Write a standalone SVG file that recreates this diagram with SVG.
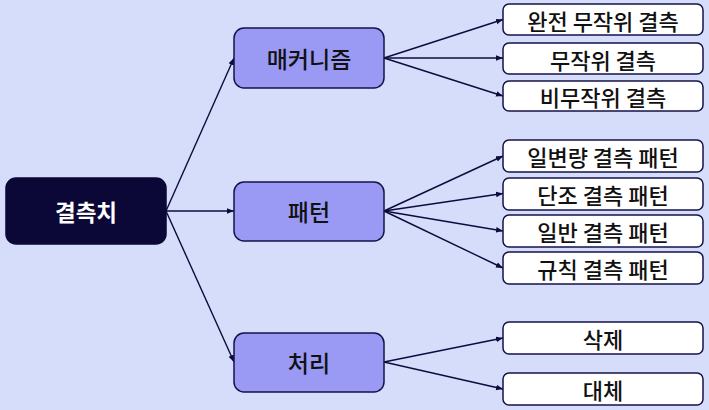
<svg xmlns="http://www.w3.org/2000/svg" width="709" height="410" viewBox="0 0 709 410">
<defs>
<marker id="arr" viewBox="0 0 10 10" refX="10" refY="5" markerWidth="7" markerHeight="7" markerUnits="userSpaceOnUse" orient="auto">
<path d="M0,1 L10,5 L0,9 z" fill="#0d0b3d"/>
</marker>
<style>
text{font-family:"Noto Sans CJK KR","Noto Sans",sans-serif;text-anchor:middle;dominant-baseline:central}
.root rect{fill:#0b0736;stroke:#0b0736;stroke-width:1.5}
.root text{fill:#ffffff;font-size:22.5px;font-weight:bold}
.mid rect{fill:#9a9af5;stroke:#14124a;stroke-width:1.5}
.mid text{fill:#111111;font-size:23px;font-weight:500}
.leaf rect{fill:#ffffff;stroke:#14124a;stroke-width:1.5}
.leaf text{fill:#111111;font-size:22px;font-weight:500}
.edges line{stroke:#0d0b3d;stroke-width:1.4;marker-end:url(#arr)}
</style>
</defs>
<rect width="709" height="410" fill="#d5ddfa"/>
<g class="edges" id="connectors">
<line x1="166" y1="211" x2="234" y2="58"/>
<line x1="166" y1="211" x2="234" y2="211"/>
<line x1="166" y1="211" x2="234" y2="362"/>
<line x1="384" y1="58" x2="503" y2="19.5"/>
<line x1="384" y1="58" x2="503" y2="58"/>
<line x1="384" y1="58" x2="503" y2="96"/>
<line x1="384" y1="211" x2="503" y2="156"/>
<line x1="384" y1="211" x2="503" y2="193.5"/>
<line x1="384" y1="211" x2="503" y2="231"/>
<line x1="384" y1="211" x2="503" y2="268"/>
<line x1="384" y1="362" x2="503" y2="338"/>
<line x1="384" y1="362" x2="503" y2="389"/>
</g>
<g id="n-root" class="root"><rect x="6" y="178" width="160" height="66" rx="10"/><text x="86" y="211">결측치</text></g>
<g id="n-mech" class="mid"><rect x="234" y="28" width="150" height="60" rx="10"/><text x="309" y="58">매커니즘</text></g>
<g id="n-pattern" class="mid"><rect x="234" y="182" width="150" height="59" rx="10"/><text x="309" y="211">패턴</text></g>
<g id="n-proc" class="mid"><rect x="234" y="333" width="150" height="59" rx="10"/><text x="309" y="362">처리</text></g>
<g id="n-mcar" class="leaf"><rect x="503" y="4" width="200" height="31" rx="6"/><text x="603" y="19.5">완전 무작위 결측</text></g>
<g id="n-mar" class="leaf"><rect x="503" y="43" width="200" height="31" rx="6"/><text x="603" y="58.5">무작위 결측</text></g>
<g id="n-mnar" class="leaf"><rect x="503" y="81" width="200" height="30" rx="6"/><text x="603" y="96">비무작위 결측</text></g>
<g id="n-uni" class="leaf"><rect x="503" y="140" width="200" height="32" rx="6"/><text x="603" y="156">일변량 결측 패턴</text></g>
<g id="n-mono" class="leaf"><rect x="503" y="178" width="200" height="32" rx="6"/><text x="603" y="194">단조 결측 패턴</text></g>
<g id="n-gen" class="leaf"><rect x="503" y="215" width="200" height="32" rx="6"/><text x="603" y="231">일반 결측 패턴</text></g>
<g id="n-reg" class="leaf"><rect x="503" y="252" width="200" height="32" rx="6"/><text x="603" y="268">규칙 결측 패턴</text></g>
<g id="n-del" class="leaf"><rect x="503" y="322" width="200" height="32" rx="6"/><text x="603" y="338">삭제</text></g>
<g id="n-imp" class="leaf"><rect x="503" y="373" width="200" height="32" rx="6"/><text x="603" y="389">대체</text></g>
</svg>
